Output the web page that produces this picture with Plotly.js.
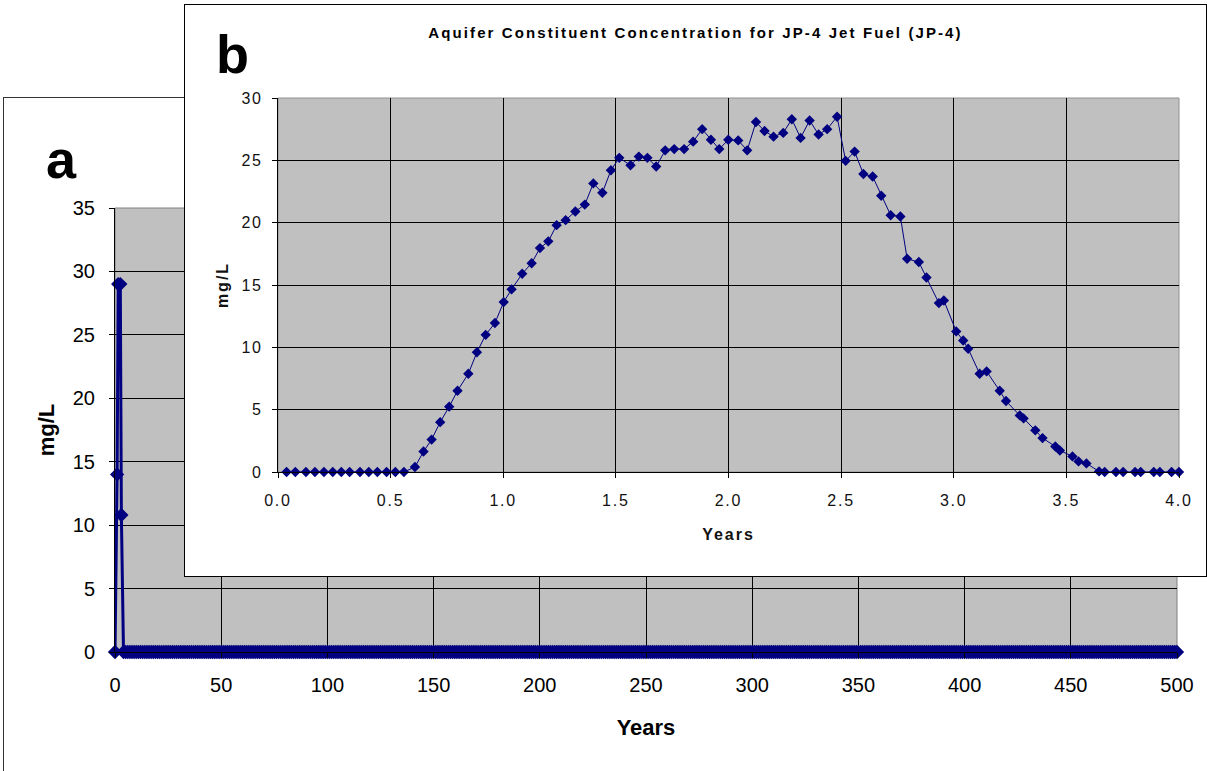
<!DOCTYPE html>
<html><head><meta charset="utf-8">
<script src="https://cdn.plot.ly/plotly-3.0.1.min.js"></script>
<style>
html,body{margin:0;padding:0;background:#fff;width:1207px;height:771px;overflow:hidden;}
#frameA{position:absolute;left:3px;top:97px;width:1300px;height:800px;border:1px solid #333;box-sizing:border-box;}
#chartA{position:absolute;left:0;top:0;width:1207px;height:771px;}
#boxB{position:absolute;left:184px;top:4px;width:1023px;height:573px;border:1px solid #000;box-sizing:border-box;background:#fff;}
#chartB{position:absolute;left:0;top:0;width:1021px;height:571px;}
#chartB .xtick text,#chartB .ytick text{letter-spacing:1.8px;}
#chartB .gtitle{letter-spacing:2.1px;}
#chartB .xtitle,#chartB .ytitle{letter-spacing:2px;}
</style></head>
<body>
<div id="frameA"></div>
<div id="chartA"></div>
<div id="boxB"><div id="chartB"></div></div>
<script>
// ---------- Panel a : 0-500 years ----------
const yearsA = [0,1,1.5,2.5,3,4,
5,6,7,8,9,10,11,12,13,14,15,16,17,18,19,20,21,22,23,24,25,26,27,28,29,30,31,32,33,34,35,36,37,38,39,40,
41,42,43,44,45,46,47,48,49,50,51,52,53,54,55,56,57,58,59,60,61,62,63,64,65,66,67,68,69,70,71,72,73,74,75,76,77,78,79,80,
81,82,83,84,85,86,87,88,89,90,91,92,93,94,95,96,97,98,99,100,101,102,103,104,105,106,107,108,109,110,111,112,113,114,115,116,117,118,119,120,
121,122,123,124,125,126,127,128,129,130,131,132,133,134,135,136,137,138,139,140,141,142,143,144,145,146,147,148,149,150,151,152,153,154,155,156,157,158,159,160,
161,162,163,164,165,166,167,168,169,170,171,172,173,174,175,176,177,178,179,180,181,182,183,184,185,186,187,188,189,190,191,192,193,194,195,196,197,198,199,200,
201,202,203,204,205,206,207,208,209,210,211,212,213,214,215,216,217,218,219,220,221,222,223,224,225,226,227,228,229,230,231,232,233,234,235,236,237,238,239,240,
241,242,243,244,245,246,247,248,249,250,251,252,253,254,255,256,257,258,259,260,261,262,263,264,265,266,267,268,269,270,271,272,273,274,275,276,277,278,279,280,
281,282,283,284,285,286,287,288,289,290,291,292,293,294,295,296,297,298,299,300,301,302,303,304,305,306,307,308,309,310,311,312,313,314,315,316,317,318,319,320,
321,322,323,324,325,326,327,328,329,330,331,332,333,334,335,336,337,338,339,340,341,342,343,344,345,346,347,348,349,350,351,352,353,354,355,356,357,358,359,360,
361,362,363,364,365,366,367,368,369,370,371,372,373,374,375,376,377,378,379,380,381,382,383,384,385,386,387,388,389,390,391,392,393,394,395,396,397,398,399,400,
401,402,403,404,405,406,407,408,409,410,411,412,413,414,415,416,417,418,419,420,421,422,423,424,425,426,427,428,429,430,431,432,433,434,435,436,437,438,439,440,
441,442,443,444,445,446,447,448,449,450,451,452,453,454,455,456,457,458,459,460,461,462,463,464,465,466,467,468,469,470,471,472,473,474,475,476,477,478,479,480,
481,482,483,484,485,486,487,488,489,490,491,492,493,494,495,496,497,498,499,500];
const concA = [0,14,29,29,10.8,0,
0,0,0,0,0,0,0,0,0,0,0,0,0,0,0,0,0,0,0,0,0,0,0,0,0,0,0,0,0,0,0,0,0,0,0,0,
0,0,0,0,0,0,0,0,0,0,0,0,0,0,0,0,0,0,0,0,0,0,0,0,0,0,0,0,0,0,0,0,0,0,0,0,0,0,0,0,
0,0,0,0,0,0,0,0,0,0,0,0,0,0,0,0,0,0,0,0,0,0,0,0,0,0,0,0,0,0,0,0,0,0,0,0,0,0,0,0,
0,0,0,0,0,0,0,0,0,0,0,0,0,0,0,0,0,0,0,0,0,0,0,0,0,0,0,0,0,0,0,0,0,0,0,0,0,0,0,0,
0,0,0,0,0,0,0,0,0,0,0,0,0,0,0,0,0,0,0,0,0,0,0,0,0,0,0,0,0,0,0,0,0,0,0,0,0,0,0,0,
0,0,0,0,0,0,0,0,0,0,0,0,0,0,0,0,0,0,0,0,0,0,0,0,0,0,0,0,0,0,0,0,0,0,0,0,0,0,0,0,
0,0,0,0,0,0,0,0,0,0,0,0,0,0,0,0,0,0,0,0,0,0,0,0,0,0,0,0,0,0,0,0,0,0,0,0,0,0,0,0,
0,0,0,0,0,0,0,0,0,0,0,0,0,0,0,0,0,0,0,0,0,0,0,0,0,0,0,0,0,0,0,0,0,0,0,0,0,0,0,0,
0,0,0,0,0,0,0,0,0,0,0,0,0,0,0,0,0,0,0,0,0,0,0,0,0,0,0,0,0,0,0,0,0,0,0,0,0,0,0,0,
0,0,0,0,0,0,0,0,0,0,0,0,0,0,0,0,0,0,0,0,0,0,0,0,0,0,0,0,0,0,0,0,0,0,0,0,0,0,0,0,
0,0,0,0,0,0,0,0,0,0,0,0,0,0,0,0,0,0,0,0,0,0,0,0,0,0,0,0,0,0,0,0,0,0,0,0,0,0,0,0,
0,0,0,0,0,0,0,0,0,0,0,0,0,0,0,0,0,0,0,0,0,0,0,0,0,0,0,0,0,0,0,0,0,0,0,0,0,0,0,0,
0,0,0,0,0,0,0,0,0,0,0,0,0,0,0,0,0,0,0,0];
const xTicksA = [0,50,100,150,200,250,300,350,400,450,500];
const yTicksA = [0,5,10,15,20,25,30,35];

// ---------- Panel b : 0-4 years ----------
const yearsB = [0.038,0.077,0.124,0.164,0.204,0.243,0.281,0.318,0.364,0.403,0.441,0.482,0.521,0.559,
0.608,0.646,0.682,0.72,0.76,0.797,0.845,0.883,0.922,0.963,1.002,1.037,1.084,1.126,1.163,1.2,1.237,1.277,1.32,1.362,
1.4,1.44,1.478,1.515,1.565,1.602,1.64,1.679,1.719,1.759,1.803,1.843,1.883,1.922,1.959,1.999,2.043,2.083,2.122,2.16,
2.2,2.243,2.281,2.32,2.36,2.4,2.438,2.482,2.52,2.56,2.599,2.64,2.678,2.72,2.763,2.793,2.845,2.879,2.934,2.956,
3.011,3.042,3.064,3.115,3.146,3.204,3.232,3.293,3.31,3.362,3.394,3.451,3.471,3.527,3.554,3.589,3.645,3.67,
3.72,3.752,3.805,3.83,3.888,3.915,3.967,4.0];
const concB = [0,0,0,0,0,0,0,0,0,0,0,0,0,0,
0.4,1.64,2.6,4.0,5.24,6.52,7.88,9.6,11.0,11.95,13.63,14.65,15.9,16.75,17.96,18.5,19.8,20.2,20.9,21.45,
23.15,22.4,24.2,25.2,24.6,25.3,25.2,24.5,25.8,25.9,25.9,26.5,27.5,26.65,25.9,26.65,26.6,25.8,28.07,27.35,
26.9,27.2,28.3,26.8,28.2,27.07,27.5,28.5,24.96,25.7,23.9,23.7,22.16,20.6,20.5,17.1,16.84,15.6,13.55,13.76,
11.28,10.55,9.89,7.88,8.07,6.52,5.69,4.54,4.3,3.34,2.72,2.05,1.73,1.25,0.85,0.69,0.05,0,
0,0,0,0,0,0,0,0];
const xTicksB = [0,0.5,1,1.5,2,2.5,3,3.5,4];
const yTicksB = [0,5,10,15,20,25,30];

const NAVY = '#000080';
const FONT = 'Liberation Sans, Arial, sans-serif';

Plotly.newPlot('chartA', [{
  x: yearsA, y: concA, type: 'scatter', mode: 'lines+markers',
  line: {color: NAVY, width: 3},
  marker: {symbol: 'diamond', size: 11, color: NAVY},
  cliponaxis: false, hoverinfo: 'x+y'
}], {
  width: 1207, height: 771,
  margin: {l: 115, r: 30, t: 208, b: 119},
  paper_bgcolor: 'rgba(0,0,0,0)', plot_bgcolor: '#c0c0c0',
  showlegend: false,
  font: {family: FONT, color: '#000'},
  xaxis: {range: [0, 500], tickvals: xTicksA, ticks: 'outside', ticklen: 5, tickcolor: '#000',
    showgrid: true, gridcolor: '#000', gridwidth: 1, zeroline: false,
    showline: true, linecolor: '#000', linewidth: 1,
    tickfont: {size: 20, family: FONT}, ticklabelstandoff: 10,
    title: {text: 'Years', font: {size: 22, family: FONT, weight: 'bold'}, standoff: 24}},
  yaxis: {range: [0, 35], tickvals: yTicksA, ticks: 'outside', ticklen: 5, tickcolor: '#000',
    showgrid: true, gridcolor: '#000', gridwidth: 1, zeroline: false,
    showline: true, linecolor: '#000', linewidth: 1,
    tickfont: {size: 20, family: FONT}, ticklabelstandoff: 10,
    title: {text: 'mg/L', font: {size: 22, family: FONT, weight: 'bold'}, standoff: 12}},
  shapes: [{type: 'rect', xref: 'paper', yref: 'paper', x0: 0, x1: 1, y0: 0, y1: 1,
    line: {color: '#808080', width: 1}, layer: 'below'}],
  annotations: [{text: 'a', xref: 'paper', yref: 'paper', x: -0.05, y: 1.11,
    xanchor: 'center', yanchor: 'middle', showarrow: false,
    font: {size: 54, family: FONT, weight: 'bold', color: '#000'}}]
}, {staticPlot: true});

Plotly.newPlot('chartB', [{
  x: yearsB, y: concB, type: 'scatter', mode: 'lines+markers',
  line: {color: NAVY, width: 1},
  marker: {symbol: 'diamond', size: 8, color: NAVY},
  cliponaxis: false, hoverinfo: 'x+y'
}], {
  width: 1021, height: 571,
  margin: {l: 93, r: 27, t: 93, b: 104},
  paper_bgcolor: '#fff', plot_bgcolor: '#c0c0c0',
  showlegend: false,
  font: {family: FONT, color: '#111'},
  title: {text: 'Aquifer Constituent Concentration for JP-4 Jet Fuel (JP-4)',
    font: {size: 15, family: FONT, weight: 'bold', color: '#000'},
    x: 0.5, xref: 'container', xanchor: 'center', y: 0.951, yref: 'container', yanchor: 'middle'},
  xaxis: {range: [0, 4], tickvals: xTicksB, tickformat: '.1f', ticks: 'outside', ticklen: 5, tickcolor: '#000',
    showgrid: true, gridcolor: '#000', gridwidth: 1, zeroline: false,
    showline: true, linecolor: '#000', linewidth: 1,
    tickfont: {size: 16, family: FONT}, ticklabelstandoff: 9,
    title: {text: 'Years', font: {size: 16, family: FONT, weight: 'bold'}, standoff: 20}},
  yaxis: {range: [0, 30], tickvals: yTicksB, ticks: 'outside', ticklen: 5, tickcolor: '#000',
    showgrid: true, gridcolor: '#000', gridwidth: 1, zeroline: false,
    showline: true, linecolor: '#000', linewidth: 1,
    tickfont: {size: 16, family: FONT}, ticklabelstandoff: 6,
    title: {text: 'mg/L', font: {size: 16, family: FONT, weight: 'bold'}, standoff: 12}},
  shapes: [{type: 'rect', xref: 'paper', yref: 'paper', x0: 0, x1: 1, y0: 0, y1: 1,
    line: {color: '#909090', width: 1}, layer: 'below'}],
  annotations: [{text: 'b', xref: 'paper', yref: 'paper', x: -0.05, y: 1.118,
    xanchor: 'center', yanchor: 'middle', showarrow: false,
    font: {size: 54, family: FONT, weight: 'bold', color: '#000'}}]
}, {staticPlot: true});
</script>
</body></html>
